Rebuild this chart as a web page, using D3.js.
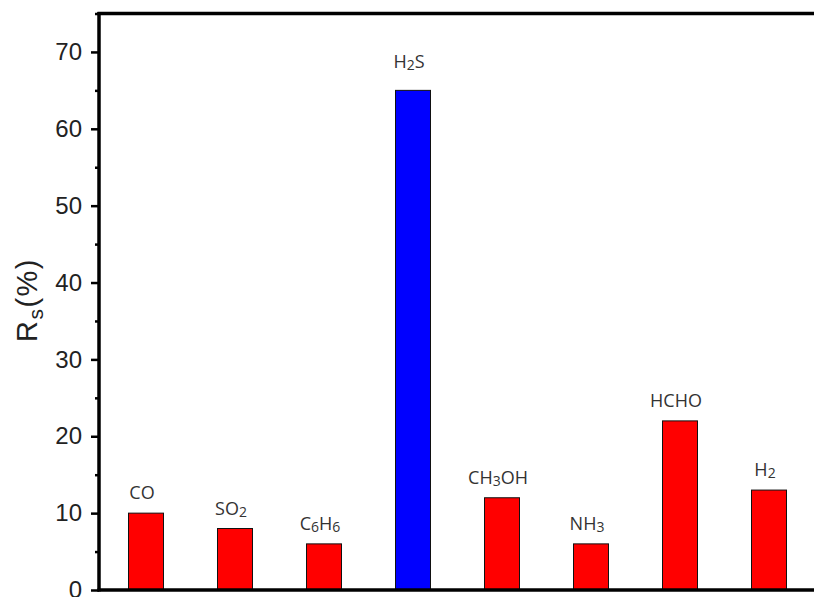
<!DOCTYPE html>
<html><head><meta charset="utf-8">
<script src="https://cdn.jsdelivr.net/npm/d3@7"></script>
<style>body{margin:0;background:#fff}svg{display:block}</style>
</head><body>
<svg id="c" width="814" height="597"></svg>
<script>
const categories = ["CO","SO2","C6H6","H2S","CH3OH","NH3","HCHO","H2"];
const labelParts = [
  [["CO",0]],
  [["SO",0],["2",1]],
  [["C",0],["6",1],["H",0],["6",1]],
  [["H",0],["2",1],["S",0]],
  [["CH",0],["3",1],["OH",0]],
  [["NH",0],["3",1]],
  [["HCHO",0]],
  [["H",0],["2",1]]
];
const values = [10, 8, 6, 65, 12, 6, 22, 13];
const highlight = "H2S";
const yTicks = [0,10,20,30,40,50,60,70];
const yMinorTicks = [5,15,25,35,45,55,65,75];

const svg = d3.select("#c");
const mLeft = 99, mTop = 13.5, mBottom = 590, mRight = 816;
const y = d3.scaleLinear().domain([0,75]).range([mBottom, mTop]);
const x = d3.scaleBand().domain(categories).range([101.5, 813.5]).paddingInner(0).paddingOuter(0);
const bw = 35;

// bars
svg.append("g").selectAll("rect").data(categories).join("rect")
  .attr("x", d => x(d) + x.bandwidth()/2 - bw/2)
  .attr("y", (d,i) => y(values[i]))
  .attr("width", bw)
  .attr("height", (d,i) => y(0) - y(values[i]))
  .attr("fill", d => d === highlight ? "#0000ff" : "#ff0000")
  .attr("stroke", "#111").attr("stroke-width", 1);

// labels
const lab = svg.append("g").selectAll("text").data(categories).join("text")
  .attr("x", d => x(d) + x.bandwidth()/2 - 4)
  .attr("y", (d,i) => y(values[i]) - (d === highlight ? 22 : 14))
  .attr("text-anchor", "middle")
  .attr("font-family", "'Open Sans', Lato, sans-serif")
  .attr("font-size", 18)
  .attr("fill", "#333");
lab.each(function(d,i){
  const t = d3.select(this);
  let prevSub = 0;
  labelParts[i].forEach(([s,sub]) => {
    const ts = t.append("tspan").text(s);
    if (sub) { ts.attr("font-size", 14).attr("dy", prevSub ? 0 : 2); }
    else if (prevSub) { ts.attr("dy", -2); }
    prevSub = sub;
  });
});

// y axis
const yAxis = d3.axisLeft(y).tickValues(yTicks).tickSize(8).tickPadding(9);
const ga = svg.append("g").attr("transform", `translate(${mLeft},0)`).call(yAxis);
ga.select(".domain").remove();
ga.selectAll(".tick line").attr("stroke", "#000").attr("stroke-width", 2.5);
ga.selectAll(".tick text").attr("font-family", "Arial, 'Liberation Sans', sans-serif")
  .attr("font-size", 24).attr("fill", "#222");
const gm = svg.append("g").attr("transform", `translate(${mLeft},0)`)
  .call(d3.axisLeft(y).tickValues(yMinorTicks).tickSize(4).tickFormat(""));
gm.select(".domain").remove();
gm.selectAll(".tick line").attr("stroke", "#000").attr("stroke-width", 2.5);

// frame
svg.append("line").attr("x1", mLeft).attr("x2", mLeft).attr("y1", mTop - 1.5).attr("y2", mBottom + 1.5)
  .attr("stroke", "#000").attr("stroke-width", 3.5);
svg.append("line").attr("x1", mLeft - 1.5).attr("x2", mRight).attr("y1", mTop).attr("y2", mTop)
  .attr("stroke", "#000").attr("stroke-width", 3.5);
svg.append("line").attr("x1", mLeft - 1.5).attr("x2", mRight).attr("y1", mBottom).attr("y2", mBottom)
  .attr("stroke", "#000").attr("stroke-width", 3.5);

// y label
const yl = svg.append("text")
  .attr("transform", `translate(37,300) rotate(-90)`)
  .attr("text-anchor", "middle")
  .attr("font-family", "Arial, 'Liberation Sans', sans-serif")
  .attr("font-size", 29).attr("fill", "#222")
  .attr("letter-spacing", 1.5);
yl.append("tspan").text("R");
yl.append("tspan").text("s").attr("font-size", 21).attr("dy", 6);
yl.append("tspan").text("(%)").attr("dy", -6);
</script>
</body></html>
